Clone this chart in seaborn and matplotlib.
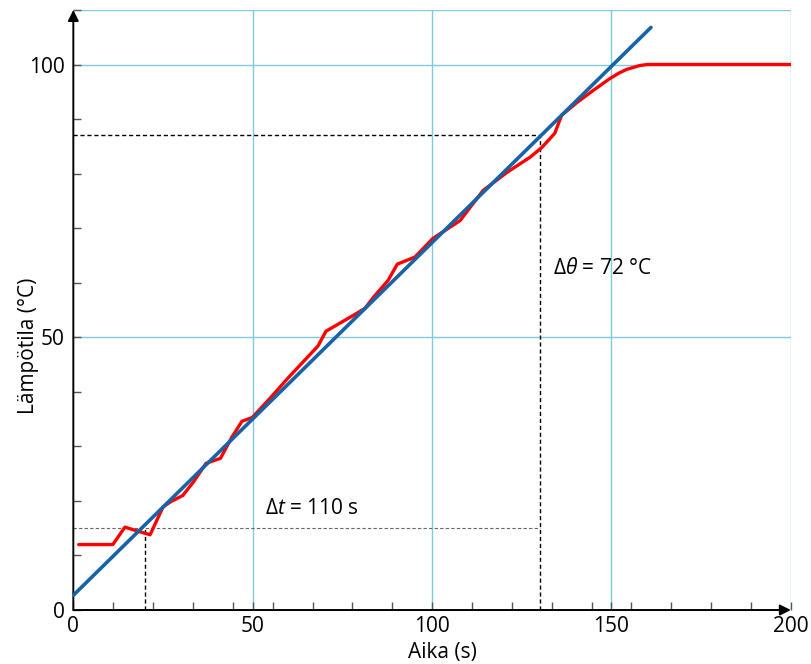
import matplotlib
matplotlib.use("Agg")
import matplotlib.pyplot as plt
import seaborn as sns
import pandas as pd
from matplotlib.ticker import MultipleLocator, FixedLocator

# ---- data ----
time_s = [1.5, 11, 14.4, 17.7, 21.4, 25, 27, 30.5, 33.4, 37, 41, 44.2, 47, 49.9,
          54.8, 59.8, 68.2, 70.4, 78, 81.3, 83.6, 87.7, 90.3, 95.2, 100.2, 107.8,
          114.2, 120.8, 127.3, 130.6, 134.2, 136.1, 140.3, 144.8, 149.5, 152,
          154.2, 157.8, 160, 200]
temp_c = [12, 12, 15.2, 14.5, 13.8, 18.9, 19.8, 21, 23.4, 26.9, 27.8, 31.7, 34.6, 35.3,
          38.8, 42.5, 48.4, 51.1, 54, 55.3, 57.3, 60.4, 63.4, 64.7, 68.1, 71.4,
          76.9, 80.2, 83, 84.8, 87.4, 90.7, 93.0, 95.2, 97.4, 98.4,
          99.1, 99.8, 100, 100]
fit_t = [0, 161]
fit_temp = [2.7, 106.8]
t1, t2 = 20, 130
th1, th2 = 15, 87
x_ticks = [0, 50, 100, 150, 200]
y_ticks = [0, 50, 100]
dt_label = "110 s"
dth_label = "72 °C"

sns.set_theme(style="white")
plt.rcParams['font.family'] = ['Open Sans', 'DejaVu Sans']
plt.rcParams['mathtext.fontset'] = 'custom'
plt.rcParams['mathtext.it'] = 'Open Sans:italic'
plt.rcParams['mathtext.rm'] = 'Open Sans'
plt.rcParams['text.color'] = 'black'
plt.rcParams['axes.labelcolor'] = 'black'
plt.rcParams['xtick.color'] = 'black'
plt.rcParams['ytick.color'] = 'black'

fig = plt.figure(figsize=(8.12, 6.64), dpi=100)
ax = fig.add_axes([0.0903, 0.0813, 0.8837, 0.9037])

grid_c = "#7ccbe0"
for gx in [50, 100, 150, 200]:
    ax.axvline(gx, color=grid_c, lw=1.0, zorder=0)
for gy in [50, 100, 110]:
    ax.axhline(gy, color=grid_c, lw=1.0, zorder=0)

# dashed guides
ax.plot([t1, t1], [0, th1], color="black", lw=1.0, ls=(0, (3, 2)), zorder=1)
ax.plot([0, t2], [th1, th1], color="#666666", lw=0.8, ls=(0, (3, 2)), zorder=1)
ax.plot([t2, t2], [0, th2], color="black", lw=1.0, ls=(0, (3, 2)), zorder=1)
ax.plot([0, t2], [th2, th2], color="black", lw=1.0, ls=(0, (3, 2)), zorder=1)

df = pd.DataFrame({"t": time_s, "T": temp_c})
sns.lineplot(data=df, x="t", y="T", sort=False, color="#ff0000", lw=2.4, ax=ax, zorder=3)
fit = pd.DataFrame({"t": fit_t, "T": fit_temp})
sns.lineplot(data=fit, x="t", y="T", sort=False, color="#1763a8", lw=2.6, ax=ax, zorder=4,
             solid_capstyle="round")

ax.set_xlim(0, 200)
ax.set_ylim(0, 110)

for s in ["top", "right", "left", "bottom"]:
    ax.spines[s].set_visible(False)

ax.annotate("", xy=(1.0, 0), xytext=(0, 0), xycoords="axes fraction",
            arrowprops=dict(arrowstyle="-|>", color="black", lw=1.4, mutation_scale=16,
                            shrinkA=0, shrinkB=0), annotation_clip=False)
ax.annotate("", xy=(0, 1.0), xytext=(0, 0), xycoords="axes fraction",
            arrowprops=dict(arrowstyle="-|>", color="black", lw=1.4, mutation_scale=16,
                            shrinkA=0, shrinkB=0), annotation_clip=False)

ax.xaxis.set_major_locator(FixedLocator(x_ticks))
ax.yaxis.set_major_locator(FixedLocator(y_ticks))
ax.xaxis.set_minor_locator(MultipleLocator(200 / 18))
ax.yaxis.set_minor_locator(MultipleLocator(10))
ax.tick_params(which="both", direction="in", length=6, width=1, color="#555555",
               labelsize=15, labelcolor="black")
ax.tick_params(axis="x", which="major", pad=4)
ax.tick_params(axis="y", which="major", pad=6)
ax.tick_params(which="major", bottom=True, left=True)
ax.tick_params(which="minor", bottom=True, left=True)
ax.set_xticklabels([str(v) for v in x_ticks])
ax.set_yticklabels([str(v) for v in y_ticks])

ax.set_xlabel("Aika (s)", fontsize=15, labelpad=4)
ax.xaxis.label.set_x(0.515)
ax.set_ylabel("Lämpötila (°C)", fontsize=15)
ax.yaxis.set_label_coords(-0.048, 0.44)

ax.text(53.4, 18.7, r"Δ$\mathit{t}$ = " + dt_label, fontsize=15, va="center", ha="left")
ax.text(133.6, 62.6, r"Δ$\mathit{θ}$ = " + dth_label, fontsize=15, va="center", ha="left")

fig.savefig("out.png", dpi=100)
